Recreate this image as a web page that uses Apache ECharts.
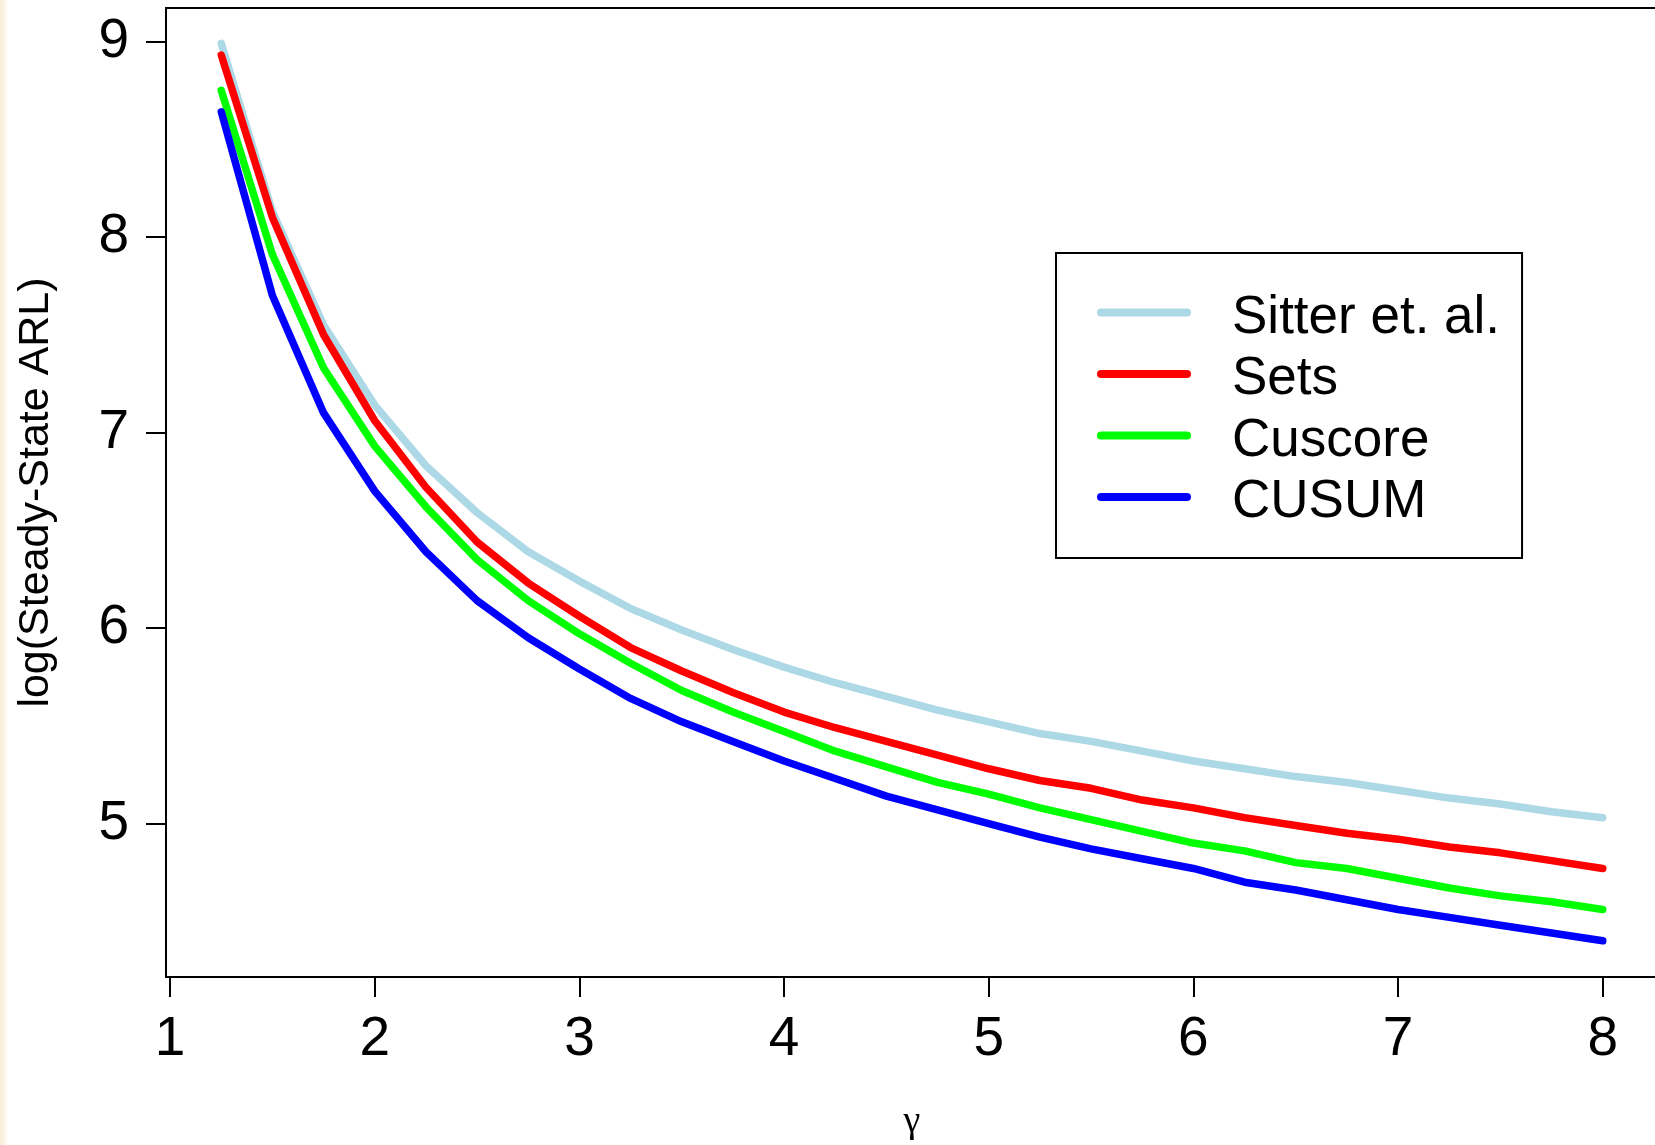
<!DOCTYPE html>
<html>
<head>
<meta charset="utf-8">
<script src="https://cdn.jsdelivr.net/npm/echarts@6/dist/echarts.min.js"></script>
<style>
  html, body { margin: 0; padding: 0; background: #fff; }
  #chart { width: 1655px; height: 1145px;
    background: linear-gradient(to right, #fbeed6 0px, #fcf2e1 4px, #fff 8px); }
</style>
</head>
<body>
<div id="chart"></div>
<script>
const gamma = [1.25, 1.5, 1.75, 2, 2.25, 2.5, 2.75, 3, 3.25, 3.5, 3.75, 4, 4.25, 4.5, 4.75, 5, 5.25, 5.5, 5.75, 6, 6.25, 6.5, 6.75, 7, 7.25, 7.5, 7.75, 8];
const sitter  = [8.99, 8.13, 7.55, 7.14, 6.83, 6.59, 6.39, 6.24, 6.10, 5.99, 5.89, 5.80, 5.72, 5.65, 5.58, 5.52, 5.46, 5.42, 5.37, 5.32, 5.28, 5.24, 5.21, 5.17, 5.13, 5.10, 5.06, 5.03];
const sets    = [8.93, 8.10, 7.50, 7.06, 6.72, 6.44, 6.23, 6.06, 5.90, 5.78, 5.67, 5.57, 5.49, 5.42, 5.35, 5.28, 5.22, 5.18, 5.12, 5.08, 5.03, 4.99, 4.95, 4.92, 4.88, 4.85, 4.81, 4.77];
const cuscore = [8.75, 7.91, 7.33, 6.93, 6.62, 6.35, 6.14, 5.97, 5.82, 5.68, 5.57, 5.47, 5.37, 5.29, 5.21, 5.15, 5.08, 5.02, 4.96, 4.90, 4.86, 4.80, 4.77, 4.72, 4.67, 4.63, 4.60, 4.56];
const cusum   = [8.64, 7.70, 7.10, 6.70, 6.39, 6.14, 5.95, 5.79, 5.64, 5.52, 5.42, 5.32, 5.23, 5.14, 5.07, 5.00, 4.93, 4.87, 4.82, 4.77, 4.70, 4.66, 4.61, 4.56, 4.52, 4.48, 4.44, 4.40];
const seriesNames = ['Sitter et. al.', 'Sets', 'Cuscore', 'CUSUM'];
const xTicks = [1, 2, 3, 4, 5, 6, 7, 8];
const yTicks = [5, 6, 7, 8, 9];

const FONT = "'Liberation Sans', Arial, sans-serif";
const colors = ['#ADD8E6', '#FF0000', '#00FF00', '#0000FF'];
const values = [sitter, sets, cuscore, cusum];

const chart = echarts.init(document.getElementById('chart'), null, { renderer: 'canvas' });

const series = values.map((v, i) => ({
  name: seriesNames[i],
  type: 'line',
  data: gamma.map((g, j) => [g, v[j]]),
  showSymbol: false,
  symbol: 'none',
  smooth: false,
  animation: false,
  lineStyle: { color: colors[i], width: 7.5, cap: 'round', join: 'round' },
  itemStyle: { color: colors[i] },
  z: 2 + i
}));

chart.setOption({
  animation: false,
  backgroundColor: 'transparent',
  grid: {
    left: 166, top: 8, width: 1492, height: 969,
    show: true, borderColor: '#000', borderWidth: 2, backgroundColor: 'transparent',
    containLabel: false,
    outerBoundsMode: 'none'
  },
  xAxis: {
    type: 'value',
    min: 0.98, max: 8.27,
    name: 'γ',
    nameLocation: 'middle',
    nameGap: 126,
    nameTextStyle: { fontFamily: "'Liberation Serif', 'DejaVu Serif', serif", fontSize: 38, color: '#000' },
    axisLine: { show: false },
    splitLine: { show: false },
    axisTick: { show: true, customValues: xTicks, length: 20, inside: false, lineStyle: { color: '#000', width: 2 } },
    axisLabel: { customValues: xTicks, fontFamily: FONT, fontSize: 55, color: '#000', margin: 35 }
  },
  yAxis: {
    type: 'value',
    min: 4.215, max: 9.171,
    name: 'log(Steady-State ARL)',
    nameLocation: 'middle',
    nameRotate: 90,
    nameGap: 108,
    nameTextStyle: { fontFamily: FONT, fontSize: 43, color: '#000' },
    axisLine: { show: false },
    splitLine: { show: false },
    axisTick: { show: true, customValues: yTicks, length: 20, inside: false, lineStyle: { color: '#000', width: 2 } },
    axisLabel: { customValues: yTicks, fontFamily: FONT, fontSize: 55, color: '#000', margin: 37 }
  },
  legend: {
    orient: 'vertical',
    left: 1056, top: 253,
    padding: [32, 22, 29, 41],
    borderColor: '#000', borderWidth: 2,
    backgroundColor: '#fff',
    itemGap: 2,
    itemWidth: 94, itemHeight: 8,
    icon: 'path://M4,0H90A4,4 0 0 1 90,8H4A4,4 0 0 1 4,0Z',
    data: seriesNames,
    formatter: name => '{s| }\n{t|' + name + '}',
    textStyle: {
      fontFamily: FONT, fontSize: 53, color: '#000',
      rich: {
        s: { fontSize: 1, lineHeight: 11, padding: [0, 0, 0, 36] },
        t: { fontFamily: FONT, fontSize: 53, color: '#000', lineHeight: 54, padding: [0, 0, 0, 36] }
      }
    }
  },
  series: series
});
</script>
</body>
</html>
